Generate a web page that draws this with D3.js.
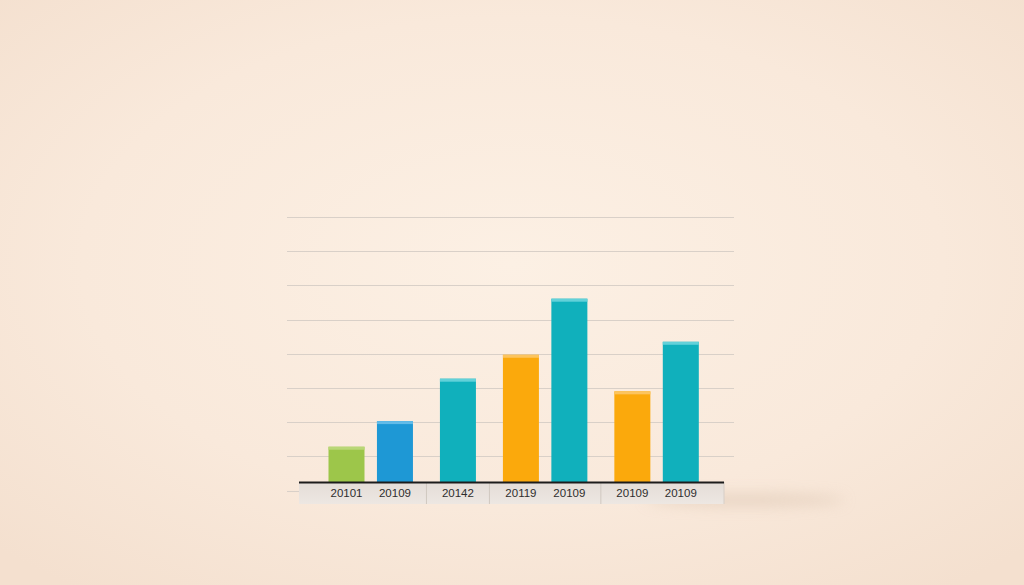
<!DOCTYPE html>
<html>
<head>
<meta charset="utf-8">
<script src="https://cdn.jsdelivr.net/npm/d3@7"></script>
<style>
html,body{margin:0;padding:0;background:#f9e8d9;}
svg{display:block;}
</style>
</head>
<body>
<script>
// ---- data ----
const labels = ["20101","20109","20142","20119","20109","20109","20109"];
const values = [1.28, 2.03, 3.27, 3.97, 5.61, 2.90, 4.35];
const groups = [0, 0, 1, 2, 2, 3, 3];
const colorKeys = ["green","blue","teal","orange","teal","orange","teal"];
const gridTicks = [0,1,2,3,4,5,6,7,8];

const palette = {green:"#9dc64a", blue:"#1e98d5", teal:"#10b0bc", orange:"#fba90c"};
const capPalette = {green:"#b9d777", blue:"#62bbe8", teal:"#62d1d9", orange:"#fcc45e"};

const W = 1024, H = 585;
const svg = d3.select("body").append("svg").attr("width", W).attr("height", H);
const defs = svg.append("defs");

const bg = defs.append("radialGradient").attr("id","bg").attr("cx","50%").attr("cy","45%").attr("r","70%");
bg.append("stop").attr("offset","0%").attr("stop-color","#fcf0e4");
bg.append("stop").attr("offset","60%").attr("stop-color","#f9e9db");
bg.append("stop").attr("offset","100%").attr("stop-color","#f4e0cf");
svg.append("rect").attr("width",W).attr("height",H).attr("fill","url(#bg)");

const blur = defs.append("filter").attr("id","blur").attr("x","-50%").attr("y","-200%").attr("width","200%").attr("height","500%");
blur.append("feGaussianBlur").attr("stdDeviation",7);

const bandGrad = defs.append("linearGradient").attr("id","band").attr("x1",0).attr("y1",0).attr("x2",0).attr("y2",1);
bandGrad.append("stop").attr("offset","0%").attr("stop-color","#e4ddd7");
bandGrad.append("stop").attr("offset","100%").attr("stop-color","#ede7e2");

// scales
const GAP = 0.3;
const slot = labels.map((d,i) => i + groups[i]*GAP);
const x = d3.scaleLinear().domain([0, d3.max(slot)]).range([346.5, 680.8]);
const y = d3.scaleLinear().domain([0, 8]).range([490.5, 217]);
const barW = 36;

// gridlines
svg.append("g").selectAll("line").data(gridTicks).join("line")
  .attr("x1",287).attr("x2",d=> d===0 ? 299 : 734)
  .attr("y1",d=>Math.round(y(d))+0.5).attr("y2",d=>Math.round(y(d))+0.5)
  .attr("stroke","#d9d0c8").attr("stroke-width",1.1);

// bars
const bars = svg.append("g");
bars.selectAll("rect.bar").data(values).join("rect").attr("class","bar")
  .attr("x",(d,i)=>x(slot[i])-barW/2).attr("width",barW)
  .attr("y",d=>y(d)).attr("height",d=>y(0)-y(d))
  .attr("fill",(d,i)=>palette[colorKeys[i]]);
bars.selectAll("rect.cap").data(values).join("rect").attr("class","cap")
  .attr("x",(d,i)=>x(slot[i])-barW/2).attr("width",barW)
  .attr("y",d=>y(d)).attr("height",3)
  .attr("fill",(d,i)=>capPalette[colorKeys[i]]);

// label band shadow
svg.append("ellipse").attr("cx",745).attr("cy",500).attr("rx",100).attr("ry",6)
  .attr("fill","#dcc6b2").attr("opacity",0.6).attr("filter","url(#blur)");

// label band
const bandX0 = 299, bandX1 = 724, bandY0 = 482, bandY1 = 504;
svg.append("rect").attr("x",bandX0).attr("y",bandY0).attr("width",bandX1-bandX0).attr("height",bandY1-bandY0)
  .attr("fill","url(#band)");
// group dividers
const dividers = [];
for (let i=1;i<labels.length;i++) if (groups[i]!==groups[i-1]) dividers.push((x(slot[i])+x(slot[i-1]))/2);
svg.append("g").selectAll("line").data(dividers).join("line")
  .attr("x1",d=>d).attr("x2",d=>d).attr("y1",bandY0).attr("y2",bandY1)
  .attr("stroke","#d0c8c0").attr("stroke-width",1);
svg.append("line").attr("x1",bandX1).attr("x2",bandX1).attr("y1",bandY0).attr("y2",bandY1)
  .attr("stroke","#d6cec7").attr("stroke-width",1);

// axis line
svg.append("line").attr("x1",bandX0).attr("x2",bandX1).attr("y1",bandY0+0.5).attr("y2",bandY0+0.5)
  .attr("stroke","#1c1c1c").attr("stroke-width",2);

// labels
svg.append("g").selectAll("text").data(labels).join("text")
  .attr("x",(d,i)=>x(slot[i])).attr("y",497)
  .attr("text-anchor","middle")
  .attr("font-family","Liberation Sans, Arial, sans-serif")
  .attr("font-size",11.5).attr("fill","#2e2e2e")
  .text(d=>d);
</script>
</body>
</html>
